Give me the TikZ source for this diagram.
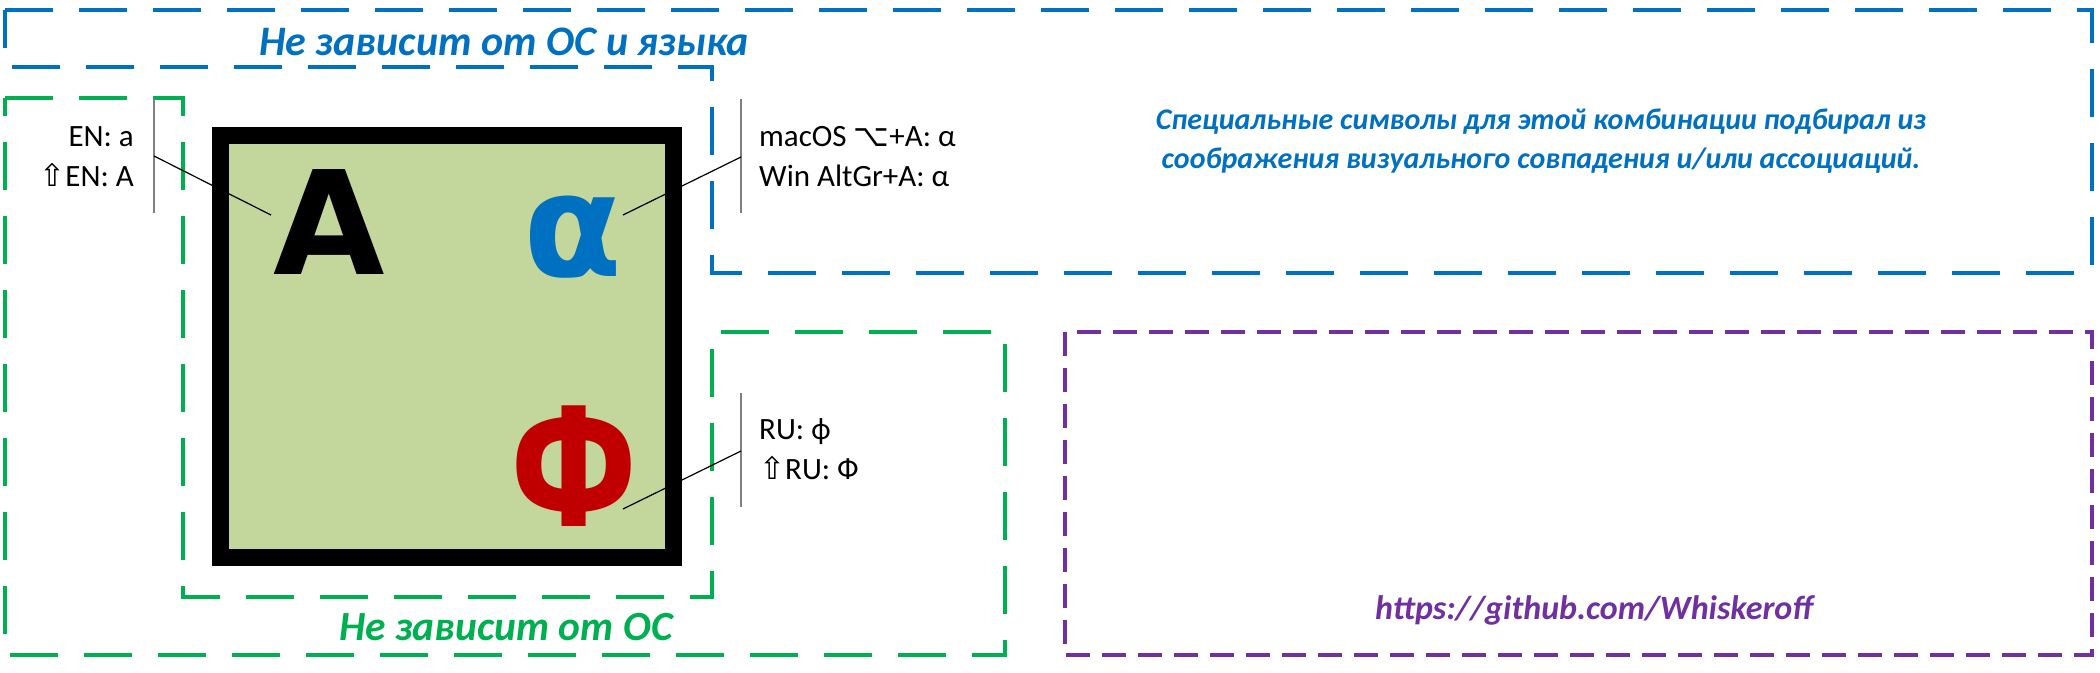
\documentclass[tikz,border=0pt]{standalone}
\usepackage{fontspec}
\setmainfont{Carlito}
\newfontfamily\symfont{DejaVu Sans}
\newfontfamily\glyphfont{DejaVu Sans}
\definecolor{osblue}{HTML}{0070C0}
\definecolor{osgreen}{HTML}{00B050}
\definecolor{ospurple}{HTML}{7030A0}
\definecolor{osred}{HTML}{C00000}
\definecolor{keyfill}{HTML}{C3D69B}
\newcommand{\shiftkey}{{\symfont\char"21E7}}
\newcommand{\optkey}{{\symfont\char"2325}}
\tikzset{
  region/.style={line width=3.5pt},
  bluedash/.style={region,draw=osblue,dash pattern=on 48pt off 26pt},
  greendash/.style={region,draw=osgreen,dash pattern=on 48pt off 26pt},
  purpledash/.style={region,draw=ospurple,dash pattern=on 24pt off 12pt},
  title/.style={font=\fontsize{42}{42}\selectfont\bfseries\itshape,inner sep=0pt},
  keylabel/.style={font=\fontsize{31}{40}\selectfont,inner sep=0pt},
  bigglyph/.style={font=\fontsize{144}{144}\selectfont\glyphfont\bfseries,inner sep=0pt,anchor=base},
  bar/.style={draw=gray,line width=1.8pt},
  pointer/.style={draw=black,line width=1.2pt}
}
\begin{document}
\begin{tikzpicture}[x=1pt,y=-1pt]
\useasboundingbox (0,0) rectangle (2100,672);
% regions
\draw[bluedash] (5,10) -- (2092,10) -- (2092,273) -- (712,273) -- (712,67) -- (5,67) -- cycle;
\draw[greendash] (5,98) -- (183,98) -- (183,597) -- (712,597) -- (712,332)
	-- (1005,332) -- (1005,655) -- (5,655) -- cycle;
\draw[purpledash] (1065,332) rectangle (2092,655);
\node[title,text=osblue] (tBlue) at (504,42) {Не зависит от ОС и языка};
\node[title,text=osblue,align=center,font=\fontsize{30}{39}\selectfont\bfseries\itshape] (tNote) at (1541,141)
	{Специальные символы для этой комбинации подбирал из\\соображения визуального совпадения и/или ассоциаций.};
\node[title,text=osgreen,font=\fontsize{41.5}{42}\selectfont\bfseries\itshape] (tGreen) at (506,627) {Не зависит от ОС};
\node[title,text=ospurple,font=\fontsize{34}{34}\selectfont\bfseries\itshape] (tUrl) at (1594,610) {https://github.com/Whiskeroff};
% key
\node[draw=black,line width=17pt,fill=keyfill,minimum width=453pt,minimum height=422pt,inner sep=0pt]
	(key) at (447,346.5) {};
\node[bigglyph,text=black] (gEN) at (329,274) {A};
\node[bigglyph,text=osblue] (gAlt) at (573,276) {α};
\node[bigglyph,text=osred,anchor=center] (gRU) at (574,466) {\scalebox{0.89}[1.15]{Ф}};
% callouts
\coordinate (barL1) at (154,99);
\coordinate (barL2) at (154,213);
\coordinate (barLm) at (154,156);
\coordinate (tipL) at (271,215);
\coordinate (barT1) at (741,99);
\coordinate (barT2) at (741,213);
\coordinate (barTm) at (741,157);
\coordinate (tipT) at (623,215);
\coordinate (barB1) at (741,393);
\coordinate (barB2) at (741,507);
\coordinate (barBm) at (741,451);
\coordinate (tipB) at (623,509);
\draw[bar] (barL1) -- (barL2);
\draw[bar] (barT1) -- (barT2);
\draw[bar] (barB1) -- (barB2);
\draw[pointer] (barLm) -- (tipL);
\draw[pointer] (barTm) -- (tipT);
\draw[pointer] (barBm) -- (tipB);
\node[keylabel,anchor=east,align=right] (lEN) at (134,157) {EN: a\\\shiftkey EN: A};
\node[keylabel,anchor=west,align=left] (lAlt) at (759,157) {macOS \optkey+A: α\\Win AltGr+A: α};
\node[keylabel,anchor=west,align=left] (lRU) at (759,449) {RU: ф\\\shiftkey RU: Ф};
\end{tikzpicture}
\end{document}
